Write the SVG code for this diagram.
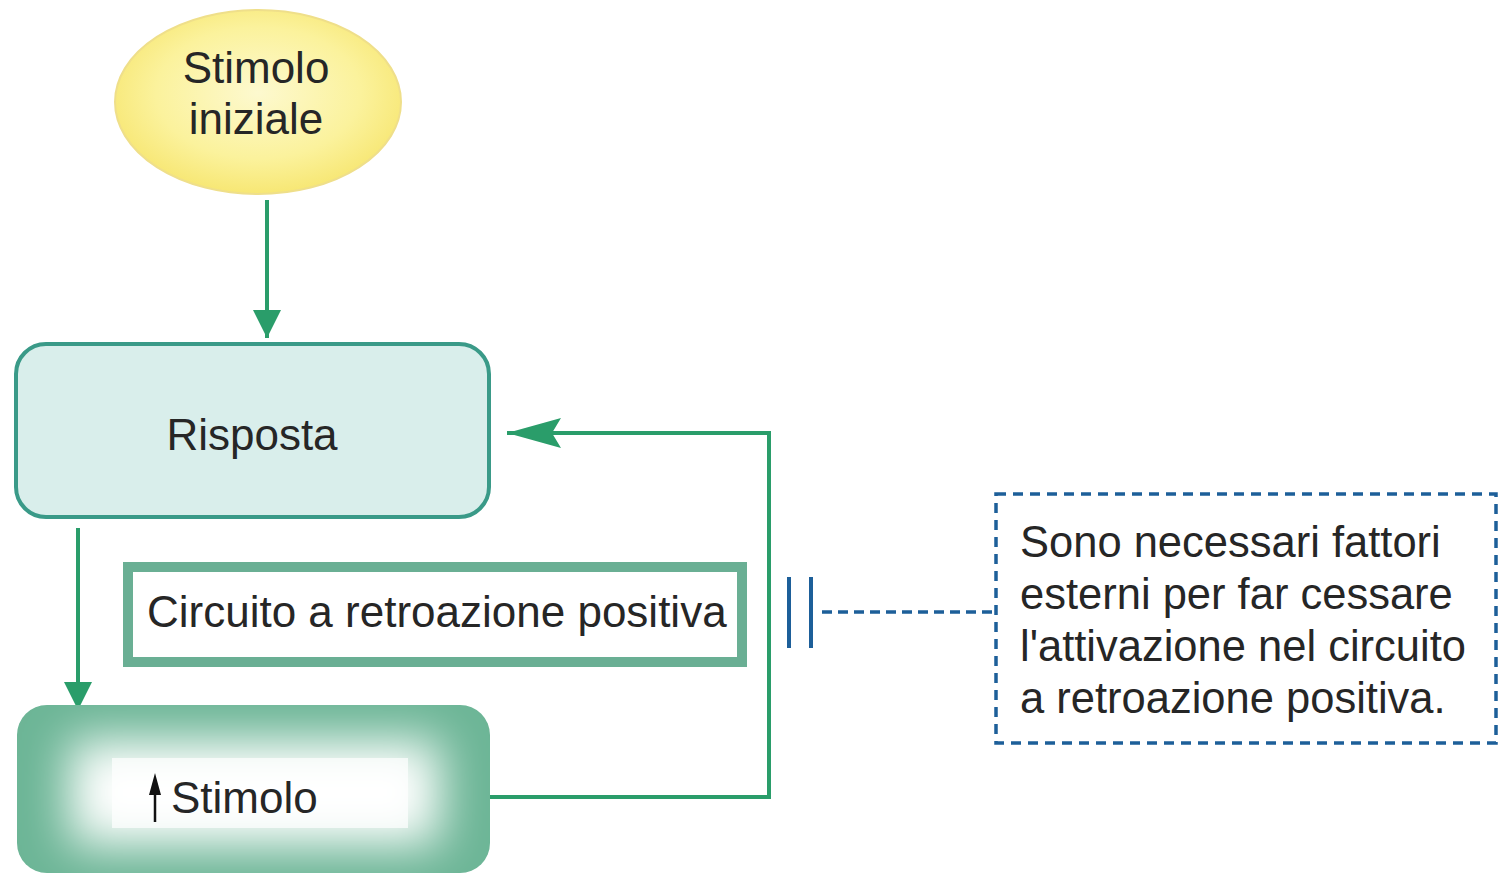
<svg xmlns="http://www.w3.org/2000/svg" width="1499" height="875" viewBox="0 0 1499 875">
<defs>
<style>
.t{font-family:"Liberation Sans",Arial,sans-serif;fill:#262626;}
.g{stroke:#2a9d6a;stroke-width:4;fill:none;}
</style>
<radialGradient id="yel" cx="0.5" cy="0.45" r="0.55">
<stop offset="0" stop-color="#fdf9cf"/>
<stop offset="0.65" stop-color="#fbf29c"/>
<stop offset="1" stop-color="#f7e774"/>
</radialGradient>
<filter id="blur" x="-30%" y="-60%" width="160%" height="220%">
<feGaussianBlur stdDeviation="24"/>
</filter>
<clipPath id="clipS">
<rect x="17" y="705" width="473" height="168" rx="30"/>
</clipPath>
<marker id="ah" viewBox="0 0 10 10" refX="10" refY="5" markerWidth="7" markerHeight="7.5" markerUnits="strokeWidth" orient="auto">
<path d="M0,0 L10,5 L0,10 z" fill="#2a9d6a"/>
</marker>
<marker id="ah2" viewBox="0 0 18 10" refX="18" refY="5" markerWidth="13.5" markerHeight="7.5" markerUnits="strokeWidth" orient="auto">
<path d="M0,0 L18,5 L0,10 L3,5 z" fill="#2a9d6a"/>
</marker>
</defs>
<rect width="1499" height="875" fill="#ffffff"/>

<g id="connectors">
<line class="g" x1="267" y1="200" x2="267" y2="338" marker-end="url(#ah)"/>
<line class="g" x1="78" y1="528" x2="78" y2="710" marker-end="url(#ah)"/>
<polyline class="g" points="490,797 769,797 769,433 507,433" marker-end="url(#ah2)"/>
<line x1="789" y1="577" x2="789" y2="648" stroke="#1d5f99" stroke-width="4"/>
<line x1="811" y1="577" x2="811" y2="648" stroke="#1d5f99" stroke-width="4"/>
<line x1="822" y1="612" x2="995" y2="612" stroke="#1d5f99" stroke-width="3.5" stroke-dasharray="10,6"/>
</g>

<g id="stimolo-iniziale">
<ellipse cx="258" cy="102" rx="143" ry="92" fill="url(#yel)" stroke="#efdf8a" stroke-width="2"/>
<text class="t" x="256" y="83" font-size="44" text-anchor="middle">Stimolo</text>
<text class="t" x="256" y="134" font-size="44" text-anchor="middle">iniziale</text>
</g>

<g id="risposta">
<rect x="16" y="344" width="473" height="173" rx="30" fill="#d9eeeb" stroke="#3a9a88" stroke-width="4"/>
<text class="t" x="252" y="450" font-size="44" text-anchor="middle">Risposta</text>
</g>

<g id="stimolo">
<rect x="17" y="705" width="473" height="168" rx="30" fill="#6cb596"/>
<g clip-path="url(#clipS)">
<rect x="70" y="740" width="370" height="105" fill="#ffffff" filter="url(#blur)"/>
<rect x="112" y="758" width="296" height="70" fill="#ffffff" opacity="0.7"/>
</g>
<line x1="155" y1="822" x2="155" y2="790" stroke="#111" stroke-width="2.5"/>
<path d="M149,795 L155,773 L161,795 z" fill="#111"/>
<text class="t" x="171" y="813" font-size="44">Stimolo</text>
</g>

<g id="circuito">
<rect x="128" y="567" width="614" height="95" fill="#ffffff" stroke="#6aaf94" stroke-width="10"/>
<text class="t" x="147" y="627" font-size="44">Circuito a retroazione positiva</text>
</g>

<g id="nota">
<rect x="996" y="494" width="500" height="249" fill="#ffffff" stroke="#1d5f99" stroke-width="3.5" stroke-dasharray="10,7"/>
<text class="t" x="1020" y="557" font-size="43.5">Sono necessari fattori</text>
<text class="t" x="1020" y="609" font-size="43.5">esterni per far cessare</text>
<text class="t" x="1020" y="661" font-size="43.5">l'attivazione nel circuito</text>
<text class="t" x="1020" y="713" font-size="43.5">a retroazione positiva.</text>
</g>
</svg>
